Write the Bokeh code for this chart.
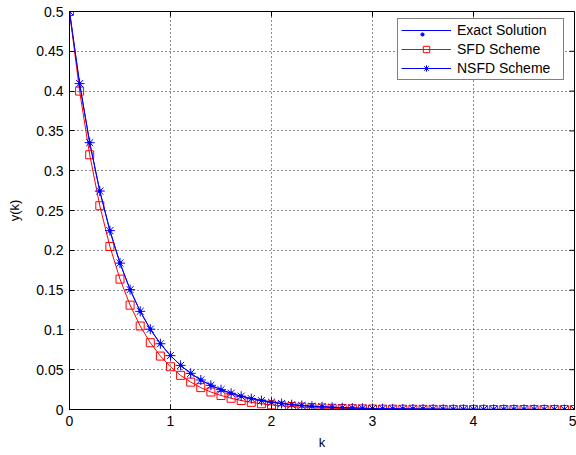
import math
from bokeh.plotting import figure
from bokeh.models import Legend, LegendItem, Range1d, FixedTicker
from bokeh.embed import file_html
from bokeh.resources import INLINE

# ---- data ----
k = [0.0, 0.1, 0.2, 0.3, 0.4, 0.5, 0.6, 0.7, 0.8, 0.9,
     1.0, 1.1, 1.2, 1.3, 1.4, 1.5, 1.6, 1.7, 1.8, 1.9,
     2.0, 2.1, 2.2, 2.3, 2.4, 2.5, 2.6, 2.7, 2.8, 2.9,
     3.0, 3.1, 3.2, 3.3, 3.4, 3.5, 3.6, 3.7, 3.8, 3.9,
     4.0, 4.1, 4.2, 4.3, 4.4, 4.5, 4.6, 4.7, 4.8, 4.9, 5.0]

exact_y = [0.5, 0.4094, 0.3352, 0.2744, 0.2247, 0.1839, 0.1506, 0.1233, 0.1009, 0.0826,
           0.0677, 0.0554, 0.0454, 0.0371, 0.0304, 0.0249, 0.0204, 0.0167, 0.0137, 0.0112,
           0.0092, 0.0075, 0.0061, 0.0050, 0.0041, 0.0034, 0.0028, 0.0023, 0.0018, 0.0015,
           0.0012, 0.0010, 0.0008, 0.0007, 0.0006, 0.0005, 0.0004, 0.0003, 0.0002, 0.0002,
           0.0002, 0.0001, 0.0001, 0.0001, 0.0001, 0.0001, 0.0001, 0.0000, 0.0000, 0.0000, 0.0000]

sfd_y = [0.5, 0.4, 0.32, 0.256, 0.2048, 0.1638, 0.1311, 0.1049, 0.0839, 0.0671,
         0.0537, 0.0429, 0.0344, 0.0275, 0.0220, 0.0176, 0.0141, 0.0113, 0.0090, 0.0072,
         0.0058, 0.0046, 0.0037, 0.0030, 0.0024, 0.0019, 0.0015, 0.0012, 0.0010, 0.0008,
         0.0006, 0.0005, 0.0004, 0.0003, 0.0003, 0.0002, 0.0002, 0.0001, 0.0001, 0.0001,
         0.0001, 0.0001, 0.0000, 0.0000, 0.0000, 0.0000, 0.0000, 0.0000, 0.0000, 0.0000, 0.0000]

nsfd_y = [0.5, 0.4094, 0.3352, 0.2744, 0.2247, 0.1839, 0.1506, 0.1233, 0.1009, 0.0826,
          0.0677, 0.0554, 0.0454, 0.0371, 0.0304, 0.0249, 0.0204, 0.0167, 0.0137, 0.0112,
          0.0092, 0.0075, 0.0061, 0.0050, 0.0041, 0.0034, 0.0028, 0.0023, 0.0018, 0.0015,
          0.0012, 0.0010, 0.0008, 0.0007, 0.0006, 0.0005, 0.0004, 0.0003, 0.0002, 0.0002,
          0.0002, 0.0001, 0.0001, 0.0001, 0.0001, 0.0001, 0.0001, 0.0000, 0.0000, 0.0000, 0.0000]

x_ticks = [0, 1, 2, 3, 4, 5]
y_ticks = [0, 0.05, 0.1, 0.15, 0.2, 0.25, 0.3, 0.35, 0.4, 0.45, 0.5]
y_tick_labels = {0: "0", 0.05: "0.05", 0.1: "0.1", 0.15: "0.15", 0.2: "0.2", 0.25: "0.25",
                 0.3: "0.3", 0.35: "0.35", 0.4: "0.4", 0.45: "0.45", 0.5: "0.5"}

labels = ["Exact Solution", "SFD Scheme", "NSFD Scheme"]

X_MIN, X_MAX = 0, 5
Y_MIN, Y_MAX = 0, 0.5

FONT = "Liberation Sans"
BLUE = "#0000ff"
RED = "#ff0000"

p = figure(width=576, height=455, output_backend="svg", toolbar_location=None,
           x_range=Range1d(X_MIN, X_MAX), y_range=Range1d(Y_MIN, Y_MAX),
           min_border_left=69, min_border_right=2, min_border_top=11, min_border_bottom=46,
           x_axis_label="k", y_axis_label="y(k)")

p.background_fill_color = "white"
p.border_fill_color = "white"
p.outline_line_color = "black"
p.outline_line_width = 1

for ax in (p.xaxis[0], p.yaxis[0]):
    ax.major_tick_in = 5
    ax.major_tick_out = 0
    ax.minor_tick_line_color = None
    ax.axis_line_color = "black"
    ax.major_tick_line_color = "black"
    ax.major_label_text_font = FONT
    ax.major_label_text_font_size = "14px"
    ax.major_label_text_color = "black"
    ax.axis_label_text_font = FONT
    ax.axis_label_text_font_size = "13px"
    ax.axis_label_text_font_style = "normal"
    ax.axis_label_text_color = "black"
    ax.major_label_standoff = 6

p.xaxis[0].ticker = FixedTicker(ticks=x_ticks)
p.yaxis[0].ticker = FixedTicker(ticks=y_ticks)
p.yaxis[0].major_label_overrides = y_tick_labels
p.xaxis[0].axis_label_standoff = 6
p.yaxis[0].axis_label_standoff = 11

p.xgrid.ticker = FixedTicker(ticks=x_ticks)
p.ygrid.ticker = FixedTicker(ticks=y_ticks)
for g in (p.xgrid, p.ygrid):
    g.grid_line_color = "black"
    g.grid_line_dash = "1 3"
    g.grid_line_width = 1
    g.grid_line_alpha = 0.9

# box-style tick marks on the top and right edges (clipped to the frame -> inward ticks)
p.scatter(x_ticks, [Y_MAX] * len(x_ticks), marker="dash", angle=math.pi / 2, size=10,
          line_color="black", line_width=1)
p.scatter([X_MAX] * len(y_ticks), y_ticks, marker="dash", angle=0, size=10,
          line_color="black", line_width=1)

# series
l1 = p.line(k, exact_y, line_color=BLUE, line_width=1)
m1 = p.scatter(k, exact_y, marker="circle", size=3, fill_color=BLUE, line_color=BLUE)

l2 = p.line(k, sfd_y, line_color=RED, line_width=1)
m2 = p.scatter(k, sfd_y, marker="square", size=8, fill_color=None, line_color=RED, line_width=1)

l3 = p.line(k, nsfd_y, line_color=BLUE, line_width=1)
m3 = p.scatter(k, nsfd_y, marker="asterisk", size=10, line_color=BLUE, line_width=1)

PAD, GW, GH, LW, ST, SP = 3, 50, 16, 103, 6, 3

legend = Legend(items=[LegendItem(label=labels[0], renderers=[l1]),
                       LegendItem(label=labels[1], renderers=[l2, m2]),
                       LegendItem(label=labels[2], renderers=[l3, m3])],
                location=(328, 329))
legend.border_line_color = "black"
legend.border_line_width = 1
legend.background_fill_color = "white"
legend.background_fill_alpha = 1
legend.label_text_font = FONT
legend.label_text_font_size = "14px"
legend.label_text_color = "black"
legend.glyph_width = GW
legend.glyph_height = GH
legend.label_height = GH
legend.label_width = LW
legend.label_standoff = ST
legend.spacing = SP
legend.padding = PAD
legend.margin = 0
p.add_layout(legend, "center")

# overlay legend that only draws the small dot marker of the exact solution
# (its blank label sits in the empty gap at the right end of the first row)
dot_legend = Legend(items=[LegendItem(label=" ", renderers=[m1])],
                    location=(349, 367))
dot_legend.border_line_color = None
dot_legend.background_fill_color = None
dot_legend.label_text_font = FONT
dot_legend.label_text_font_size = "14px"
dot_legend.label_text_color = None
dot_legend.glyph_width = 8
dot_legend.glyph_height = GH
dot_legend.label_height = GH
dot_legend.label_width = 4
dot_legend.label_standoff = 126
dot_legend.padding = PAD
dot_legend.margin = 0
p.add_layout(dot_legend, "center")

open("out.html", "w").write(file_html(p, INLINE))
